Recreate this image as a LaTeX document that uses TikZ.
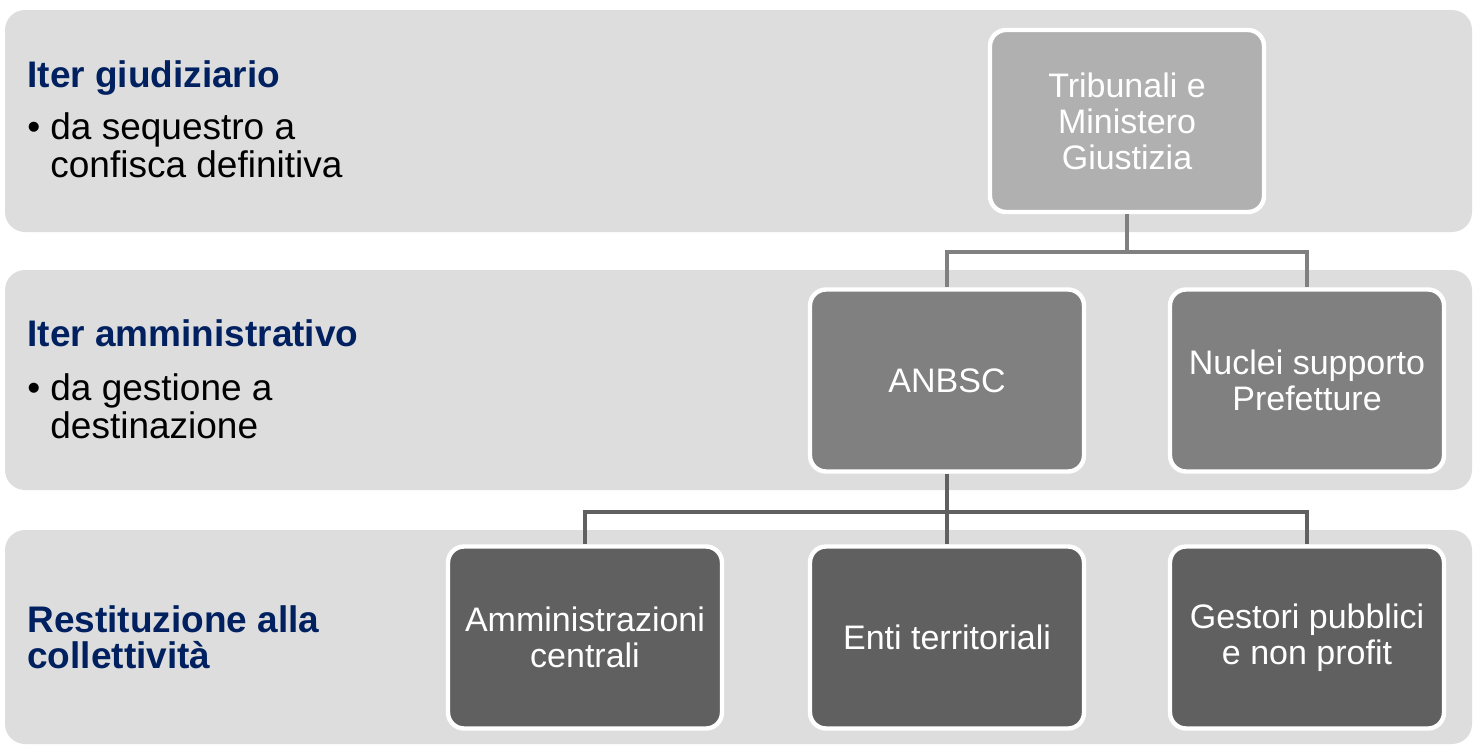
\documentclass[tikz,border=0pt]{standalone}
\usepackage{fontspec}
\setmainfont{Liberation Sans}
\definecolor{band}{HTML}{DDDDDD}
\definecolor{navy}{HTML}{002060}
\definecolor{lvla}{HTML}{B0B0B0}
\definecolor{lvlb}{HTML}{808080}
\definecolor{lvlc}{HTML}{606060}
\begin{document}
\begin{tikzpicture}[x=0.5pt,y=-0.5pt,
  bandbox/.style={fill=band, rounded corners=10pt},
  orgbox/.style={draw=white, line width=2.2pt, rounded corners=8pt, minimum width=137pt, minimum height=91pt,
    text=white, align=center, font=\fontsize{17}{18}\selectfont, inner sep=0pt},
  title/.style={anchor=base west, inner sep=0pt, text=navy, font=\fontsize{18.5}{18}\selectfont\bfseries, align=left},
  bodytext/.style={anchor=base west, inner sep=0pt, font=\fontsize{18.5}{19}\selectfont, align=left},
  linka/.style={draw=lvlb, line width=2pt},
  linkb/.style={draw=lvlc, line width=2pt}]
\useasboundingbox (0,0) rectangle (1473,745);
\fill[white] (0,0) rectangle (1473,745);
% bands
\path[bandbox] (5,10) rectangle (1472,232);
\path[bandbox] (5,270) rectangle (1472,490);
\path[bandbox] (5,530) rectangle (1472,744);
% left texts (base = baseline of last line)
\node[title] (t1) at (27,87) {Iter giudiziario};
\node[bodytext] (b1) at (27,139) {•};
\node[bodytext] (s1) at (50,177) {da sequestro a\\confisca definitiva};
\node[title] (t2) at (27,346) {Iter amministrativo};
\node[bodytext] (b2) at (27,400) {•};
\node[bodytext] (s2) at (50,438) {da gestione a\\destinazione};
\node[title] (t3) at (27,668) {Restituzione alla\\collettività};
% connector coordinates
\coordinate (j1) at (1127,252);
\coordinate (j2) at (947,512);
% org nodes
\node[orgbox, fill=lvla] (trib) at (1127,121) {Tribunali e\\Ministero\\Giustizia};
\node[orgbox, fill=lvlb] (anbsc) at (947,380.5) {ANBSC};
\node[orgbox, fill=lvlb] (nuclei) at (1307,380.5) {Nuclei supporto\\Prefetture};
\node[orgbox, fill=lvlc] (amm) at (585,637.5) {Amministrazioni\\centrali};
\node[orgbox, fill=lvlc] (enti) at (947,637.5) {Enti territoriali};
\node[orgbox, fill=lvlc] (gest) at (1307,637.5) {Gestori pubblici\\e non profit};
% connectors
\draw[linka] (trib.south) -- (j1);
\draw[linka] (j1) -| (anbsc.north);
\draw[linka] (j1) -| (nuclei.north);
\draw[linkb] (anbsc.south) -- (j2);
\draw[linkb] (j2) -| (amm.north);
\draw[linkb] (j2) -- (enti.north);
\draw[linkb] (j2) -| (gest.north);
\end{tikzpicture}
\end{document}
